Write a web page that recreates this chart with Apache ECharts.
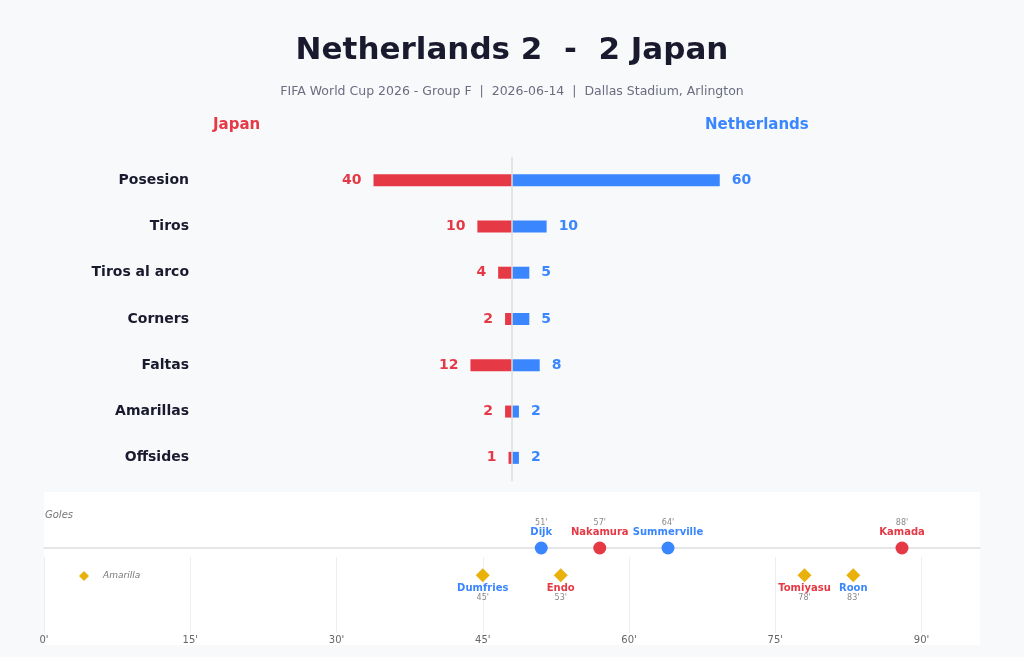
<!DOCTYPE html>
<html>
<head>
<meta charset="utf-8">
<script src="https://cdn.jsdelivr.net/npm/echarts@6/dist/echarts.min.js"></script>
<style>
  html, body { margin: 0; padding: 0; background: #f8f9fb; }
  #chart { width: 1024px; height: 657px; }
</style>
</head>
<body>
<div id="chart"></div>
<script>
// match stats
const statNames = ['Posesion', 'Tiros', 'Tiros al arco', 'Corners', 'Faltas', 'Amarillas', 'Offsides'];
const japanStats = [40, 10, 4, 2, 12, 2, 1];
const netherlandsStats = [60, 10, 5, 5, 8, 2, 2];

// timeline events
const goalPlayers = ['Dijk', 'Nakamura', 'Summerville', 'Kamada'];
const goalMinutes = [51, 57, 64, 88];
const goalTeams = ['NED', 'JPN', 'NED', 'JPN'];

const cardPlayers = ['Dumfries', 'Endo', 'Tomiyasu', 'Roon'];
const cardMinutes = [45, 53, 78, 83];
const cardTeams = ['NED', 'JPN', 'JPN', 'NED'];

const minuteTicks = [0, 15, 30, 45, 60, 75, 90];

const RED = '#e63946';
const BLUE = '#3a86ff';
const YELLOW = '#e9b10c';
const DARK = '#1a1a2e';
const FONT = 'DejaVu Sans';

const teamColor = t => (t === 'NED' ? BLUE : RED);

const goalData = goalMinutes.map((m, i) => ({
  value: [m, 0],
  itemStyle: { color: teamColor(goalTeams[i]), opacity: 1 },
  label: {
    formatter: '{m|' + m + "'}\n{n|" + goalPlayers[i] + '}',
    rich: {
      m: { fontSize: 8, color: '#888', fontFamily: FONT, lineHeight: 8 },
      n: { fontSize: 10, fontWeight: 'bold', color: teamColor(goalTeams[i]), fontFamily: FONT, lineHeight: 12 }
    }
  }
}));

const cardData = cardMinutes.map((m, i) => ({
  value: [m, -0.24],
  label: {
    formatter: '{n|' + cardPlayers[i] + "}\n{m|" + m + "'}",
    rich: {
      n: { fontSize: 10, fontWeight: 'bold', color: teamColor(cardTeams[i]), fontFamily: FONT, lineHeight: 10 },
      m: { fontSize: 8, color: '#888', fontFamily: FONT, lineHeight: 9 }
    }
  }
}));

const chart = echarts.init(document.getElementById('chart'));

chart.setOption({
  backgroundColor: '#f8f9fb',
  animation: false,
  textStyle: { fontFamily: FONT },
  title: [
    {
      text: 'Netherlands 2  -  2 Japan',
      left: 'center',
      top: 30,
      textStyle: { fontSize: 31, fontWeight: 'bold', color: DARK, fontFamily: FONT }
    },
    {
      text: 'FIFA World Cup 2026 - Group F  |  2026-06-14  |  Dallas Stadium, Arlington',
      left: 'center',
      top: 80,
      textStyle: { fontSize: 12.5, fontWeight: 'normal', color: '#6c6c80', fontFamily: FONT }
    }
  ],
  graphic: [
    {
      type: 'text', left: 213, top: 118, z: 10,
      style: { text: 'Japan', fill: RED, font: 'bold 15px "DejaVu Sans"' }
    },
    {
      type: 'text', left: 705, top: 118, z: 10,
      style: { text: 'Netherlands', fill: BLUE, font: 'bold 15px "DejaVu Sans"' }
    },
    {
      type: 'rect', left: 44, top: 492, z: -10,
      shape: { width: 936, height: 153 },
      style: { fill: '#ffffff' }
    },
    {
      type: 'text', left: 45, top: 510, z: 10,
      style: { text: 'Goles', fill: '#777', font: 'italic 10px "DejaVu Sans"' }
    }
  ],
  legend: {
    data: [{ name: 'Amarilla', icon: 'diamond' }],
    left: 74,
    top: 566,
    itemWidth: 10,
    itemHeight: 10,
    itemGap: 10,
    textStyle: { fontSize: 9, fontStyle: 'italic', color: '#777', fontFamily: FONT, padding: [0, 0, 0, 9] }
  },
  grid: [
    { left: 235, right: 235, top: 157, height: 324 },
    { left: 44, right: 44, top: 492, height: 56 },
    { left: 44, right: 44, top: 557, height: 76 }
  ],
  xAxis: [
    { gridIndex: 0, type: 'value', min: -80, max: 80, show: false },
    {
      gridIndex: 1, type: 'value', min: 0, max: 96,
      axisLine: { show: true, lineStyle: { color: '#dddddd', width: 1.5 } },
      axisTick: { show: false }, axisLabel: { show: false }, splitLine: { show: false }
    },
    {
      gridIndex: 2, type: 'value', min: 0, max: 96, interval: 15,
      axisLine: { show: false }, axisTick: { show: false },
      axisLabel: {
        fontSize: 10, color: '#666', fontFamily: FONT, margin: 2,
        showMaxLabel: false,
        formatter: v => (minuteTicks.includes(v) ? v + "'" : '')
      },
      splitLine: { show: true, showMaxLine: false, lineStyle: { color: '#eeeeee' } }
    }
  ],
  yAxis: [
    {
      gridIndex: 0, type: 'category', data: statNames, inverse: true,
      axisLine: { show: false }, axisTick: { show: false },
      axisLabel: { fontSize: 14, fontWeight: 'bold', color: DARK, fontFamily: FONT, margin: 46 }
    },
    { gridIndex: 1, type: 'value', min: 0, max: 1, show: false },
    { gridIndex: 2, type: 'value', min: -1, max: 0, show: false }
  ],
  series: [
    {
      name: 'Japan', type: 'bar', xAxisIndex: 0, yAxisIndex: 0,
      data: japanStats.map(v => -v),
      barWidth: 12, barGap: '-100%',
      itemStyle: { color: RED },
      label: {
        show: true, position: 'left', distance: 12,
        formatter: p => Math.abs(p.value),
        fontSize: 14, fontWeight: 'bold', color: RED, fontFamily: FONT
      },
      markLine: {
        silent: true, symbol: 'none', label: { show: false },
        lineStyle: { color: '#dddddd', width: 1.5, type: 'solid' },
        data: [{ xAxis: 0 }]
      }
    },
    {
      name: 'Netherlands', type: 'bar', xAxisIndex: 0, yAxisIndex: 0,
      data: netherlandsStats,
      barWidth: 12,
      itemStyle: { color: BLUE },
      label: {
        show: true, position: 'right', distance: 12,
        fontSize: 14, fontWeight: 'bold', color: BLUE, fontFamily: FONT
      }
    },
    {
      name: 'Gol', type: 'scatter', xAxisIndex: 1, yAxisIndex: 1,
      symbol: 'circle', symbolSize: 13,
      data: goalData,
      label: { show: true, position: 'top', distance: 3 },
      z: 5
    },
    {
      name: 'Amarilla', type: 'scatter', xAxisIndex: 2, yAxisIndex: 2,
      symbol: 'diamond', symbolSize: 14,
      itemStyle: { color: YELLOW, opacity: 1 },
      data: cardData,
      label: { show: true, position: 'bottom', distance: 1 },
      z: 5
    }
  ]
});
</script>
</body>
</html>
